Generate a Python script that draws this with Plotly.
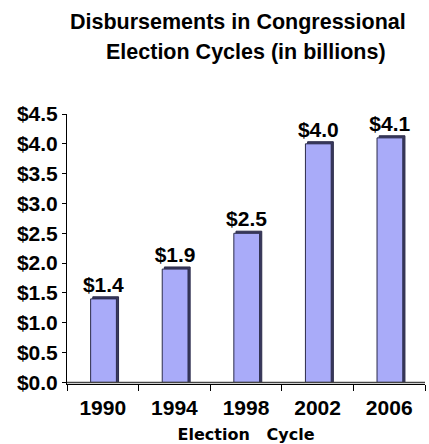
import plotly.graph_objects as go

# Disbursements per election cycle, in billions of dollars
cycles = ["1990", "1994", "1998", "2002", "2006"]
disbursements = [1.4, 1.9, 2.5, 4.0, 4.1]
heading = ["Disbursements in Congressional", "Election Cycles (in billions)"]

BAR_W = 0.36
BAR_OFF = -0.17
DEPTH_X = 0.03
DEPTH_Y = 0.035

face = "#a9abf9"
edge = "#2b2b4a"
side = "#3a3a5e"
bold_font = dict(family="Liberation Sans, Arial, sans-serif", size=21, color="black", weight="bold")
head_font = dict(bold_font, size=21.5)

fig = go.Figure()

# back/side face giving the bars a slight 3-D look
fig.add_trace(go.Bar(
    x=cycles,
    y=[v + DEPTH_Y for v in disbursements],
    width=BAR_W,
    offset=BAR_OFF + DEPTH_X,
    marker=dict(color=side, line=dict(color=edge, width=1)),
    hoverinfo="skip",
    showlegend=False,
))

# front face with value labels
fig.add_trace(go.Bar(
    x=cycles,
    y=disbursements,
    width=BAR_W,
    offset=BAR_OFF,
    marker=dict(color=face, line=dict(color=edge, width=1)),
    text=[f"${v:.1f}" for v in disbursements],
    textposition="outside",
    textfont=bold_font,
    constraintext="none",
    cliponaxis=False,
    showlegend=False,
))

# floor line
fig.add_shape(type="line", xref="paper", yref="y", x0=0, x1=1, y0=0, y1=0,
              line=dict(color="#444444", width=1.5))

# heading, one annotation per line
PLOT_L, PLOT_W, PLOT_T = 67, 358, 114
for line, cx, cy in zip(heading, [238, 246], [22, 52]):
    fig.add_annotation(
        text=line,
        font=head_font,
        xref="paper", yref="paper",
        x=(cx - PLOT_L) / PLOT_W, y=1,
        xanchor="center", yanchor="middle",
        yshift=PLOT_T - cy,
        showarrow=False,
    )

fig.update_layout(
    width=429,
    height=444,
    barmode="overlay",
    paper_bgcolor="white",
    plot_bgcolor="white",
    margin=dict(l=67, r=4, t=114, b=60),
    xaxis=dict(
        type="category",
        tickson="boundaries",
        ticks="outside",
        ticklen=6,
        tickcolor="black",
        ticklabelstandoff=5,
        showline=True,
        linecolor="black",
        linewidth=1,
        showgrid=False,
        tickfont=bold_font,
        title=dict(
            text="Election\u00a0\u00a0\u00a0Cycle",
            font=dict(family="DejaVu Sans, Verdana, sans-serif", size=16, color="black", weight="bold"),
            standoff=11,
        ),
    ),
    yaxis=dict(
        range=[-0.027, 4.5],
        tickmode="linear",
        tick0=0,
        dtick=0.5,
        tickprefix="$",
        tickformat=".1f",
        ticks="outside",
        ticklen=4,
        tickcolor="black",
        showline=True,
        linecolor="black",
        linewidth=1,
        showgrid=False,
        zeroline=False,
        tickfont=bold_font,
    ),
)

fig.write_html("out.html")
